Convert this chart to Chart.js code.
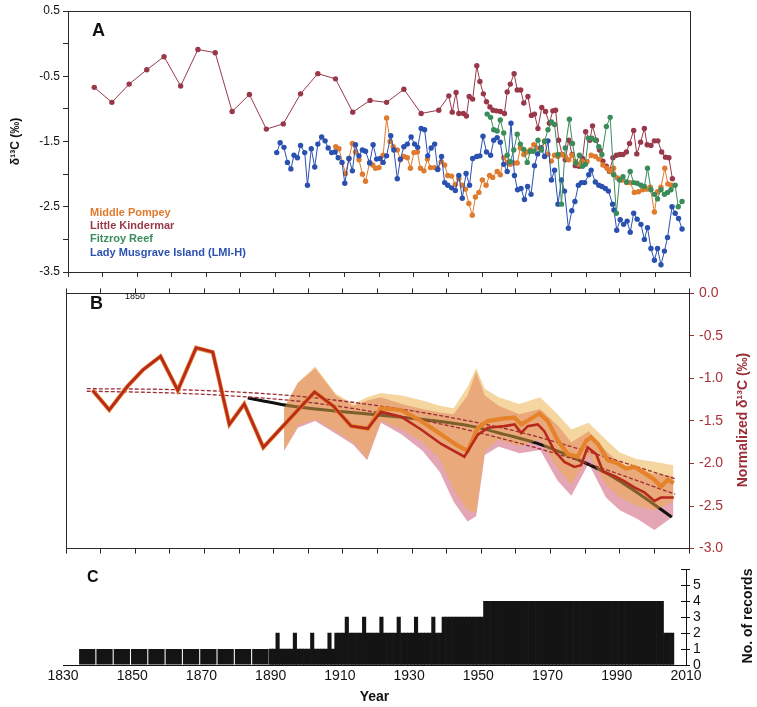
<!DOCTYPE html>
<html>
<head>
<meta charset="utf-8">
<script src="https://cdn.jsdelivr.net/npm/chart.js@4.4.1/dist/chart.umd.min.js"></script>
<style>
  html, body { margin: 0; padding: 0; background: #ffffff; }
  #wrap { position: relative; width: 757px; height: 707px; overflow: hidden; }
  canvas { position: absolute; left: 0; }
</style>
</head>
<body>
<div id="wrap">
  <canvas id="panelA" width="757" height="290" style="top:0px"></canvas>
  <canvas id="panelB" width="757" height="282" style="top:280px"></canvas>
  <canvas id="panelC" width="757" height="149" style="top:558px"></canvas>
</div>
<script>
// ---------- Panel A: raw coral δ13C records ----------
const lkYears = [1837.6,1842.7,1847.7,1852.8,1857.8,1862.6,1867.6,1872.6,1877.5,1882.5,1887.4,1892.3,1897.3,1902.3,1907.4,1912.4,1917.4,1922.2,1927.2,1932.2,1937.3,1940.2,1941.2,1942.3,1943.1,1944.4,1945.3,1946.1,1947.1,1948.3,1949.2,1950.2,1951.1,1952.1,1953.0,1954.0,1955.1,1956.3,1957.1,1958.0,1959.1,1960.0,1961.0,1961.9,1963.1,1964.1,1965.0,1966.0,1967.1,1968.2,1969.3,1970.3,1971.1,1972.0,1973.0,1973.9,1974.9,1975.9,1976.8,1977.9,1978.9,1979.8,1981.0,1981.8,1982.9,1983.8,1984.8,1985.8,1986.7,1987.7,1988.7,1989.7,1990.6,1991.6,1992.5,1993.7,1994.6,1995.7,1996.8,1997.6,1998.7,1999.7,2000.7,2001.8,2002.9,2003.9,2004.9];
const lkValues = [-0.67,-0.90,-0.62,-0.40,-0.20,-0.65,-0.09,-0.14,-1.04,-0.78,-1.31,-1.23,-0.77,-0.46,-0.54,-1.05,-0.87,-0.90,-0.70,-1.07,-1.02,-0.80,-1.05,-0.75,-1.07,-1.07,-1.11,-0.81,-0.85,-0.34,-0.58,-0.77,-0.89,-0.97,-1.02,-1.03,-1.04,-1.07,-0.74,-0.62,-0.46,-0.71,-0.71,-0.91,-0.81,-1.10,-1.08,-1.30,-0.98,-1.04,-1.22,-1.03,-1.02,-1.48,-1.70,-1.78,-1.48,-1.70,-1.87,-1.88,-1.76,-1.35,-1.48,-1.26,-1.48,-1.63,-1.80,-1.88,-1.96,-1.75,-1.71,-1.70,-1.70,-1.66,-1.53,-1.33,-1.69,-1.51,-1.30,-1.55,-1.56,-1.49,-1.49,-1.66,-1.74,-1.75,-2.07];

const mpYears = [1907.5,1908.4,1910.3,1911.3,1912.3,1913.2,1914.2,1915.2,1916.1,1917.3,1918.2,1919.0,1920.0,1921.2,1922.2,1923.2,1924.1,1925.3,1926.2,1927.2,1928.2,1929.1,1930.1,1931.1,1932.0,1933.0,1934.0,1934.9,1936.1,1937.0,1938.0,1939.0,1939.9,1941.0,1942.1,1943.1,1944.1,1945.0,1946.0,1947.0,1947.9,1948.9,1949.9,1951.0,1952.0,1952.9,1954.2,1955.1,1956.1,1957.1,1958.0,1959.0,1960.0,1960.9,1961.9,1962.9,1963.8,1964.8,1965.8,1966.9,1967.9,1968.9,1969.9,1970.8,1971.8,1972.8,1973.9,1974.9,1975.9,1976.8,1977.8,1978.7,1980.2,1981.4,1982.6,1983.6,1984.8,1986.0,1986.9,1987.9,1989.0,1990.3,1991.6,1992.7,1993.9,1995.1,1996.3,1997.5,1998.5,1999.7,2000.6,2001.6,2002.7,2003.6,2004.6];
const mpValues = [-1.58,-1.61,-1.99,-1.76,-1.53,-1.66,-1.78,-2.00,-2.11,-1.82,-1.86,-1.91,-1.90,-1.71,-1.14,-1.50,-1.58,-1.63,-1.78,-1.73,-1.75,-1.91,-1.67,-1.66,-1.91,-1.95,-1.77,-1.90,-1.90,-1.92,-1.81,-1.86,-2.02,-2.03,-2.16,-2.07,-2.17,-2.23,-2.45,-2.63,-2.35,-2.28,-2.09,-2.17,-2.02,-2.05,-1.96,-2.01,-1.75,-1.82,-1.85,-1.83,-1.83,-1.60,-1.70,-1.66,-1.63,-1.55,-1.60,-1.60,-1.49,-1.70,-1.80,-1.71,-1.73,-1.70,-1.73,-1.78,-1.71,-1.81,-1.85,-1.80,-1.81,-1.71,-1.73,-1.77,-1.86,-1.91,-1.96,-1.91,-2.06,-2.09,-2.13,-2.13,-2.28,-2.27,-2.24,-2.23,-2.20,-2.58,-2.27,-2.20,-1.91,-2.15,-2.17];

const frYears = [1951.3,1952.3,1953.2,1954.2,1955.1,1956.1,1957.1,1958.0,1959.0,1960.0,1960.9,1961.9,1962.9,1963.8,1964.8,1966.0,1967.0,1967.9,1968.9,1969.9,1970.8,1971.8,1972.8,1973.9,1975.1,1976.0,1977.0,1978.0,1978.9,1979.7,1980.6,1981.6,1982.6,1983.6,1984.5,1985.8,1986.9,1987.9,1988.7,1989.6,1990.6,1991.7,1992.7,1993.7,1994.7,1995.8,1996.8,1997.7,1998.7,1999.7,2000.6,2001.6,2002.6,2003.5,2004.5,2005.7,2006.6,2007.7];
const frValues = [-1.08,-1.13,-1.32,-1.34,-1.17,-1.37,-1.71,-1.81,-1.63,-1.39,-1.54,-1.62,-1.82,-1.65,-1.65,-1.48,-1.63,-1.50,-1.32,-1.20,-1.24,-1.70,-2.46,-1.60,-1.16,-1.53,-1.83,-1.71,-1.88,-1.85,-1.45,-1.45,-1.48,-1.58,-1.70,-1.27,-1.13,-2.01,-2.60,-2.09,-2.04,-2.12,-1.96,-2.13,-2.14,-2.17,-2.19,-1.91,-2.24,-2.31,-2.38,-2.24,-2.31,-2.28,-2.24,-2.17,-2.50,-2.42];

const lmiYears = [1890.4,1891.4,1892.5,1893.5,1894.5,1895.4,1896.4,1897.3,1898.5,1899.3,1900.4,1901.4,1902.3,1903.4,1904.4,1905.3,1906.3,1907.3,1908.2,1909.3,1910.1,1911.3,1912.3,1913.2,1914.2,1915.2,1916.1,1917.3,1918.3,1919.3,1920.3,1921.2,1922.2,1923.4,1924.3,1925.3,1926.2,1927.2,1928.2,1929.3,1930.3,1931.2,1932.2,1933.2,1934.1,1935.1,1936.1,1937.0,1938.1,1939.0,1939.9,1941.0,1942.1,1943.1,1944.1,1945.2,1946.2,1947.1,1948.3,1949.2,1950.1,1951.1,1952.3,1953.2,1954.2,1955.1,1956.1,1957.1,1958.2,1959.2,1960.1,1961.1,1962.1,1963.0,1964.0,1965.0,1965.9,1966.9,1967.9,1968.9,1969.9,1970.8,1971.8,1972.8,1973.7,1974.8,1975.8,1976.7,1977.7,1978.6,1979.5,1980.7,1981.4,1982.6,1983.6,1984.5,1985.5,1986.4,1987.6,1988.0,1988.8,1989.8,1990.8,1991.8,1992.7,1993.7,1994.7,1995.8,1996.8,1997.7,1998.7,1999.7,2000.6,2001.6,2002.6,2003.5,2004.8,2005.7,2006.7,2007.7];
const lmiValues = [-1.67,-1.52,-1.59,-1.82,-1.92,-1.71,-1.75,-1.56,-1.67,-2.17,-1.61,-1.89,-1.54,-1.43,-1.49,-1.60,-1.67,-1.66,-1.75,-1.82,-2.14,-1.76,-1.95,-1.55,-1.72,-1.63,-1.65,-1.83,-1.55,-1.77,-1.76,-1.82,-1.72,-1.41,-1.63,-2.07,-1.77,-1.58,-1.54,-1.43,-1.54,-1.59,-1.30,-1.32,-1.72,-1.60,-1.54,-1.93,-1.73,-2.13,-2.17,-2.21,-2.25,-2.02,-2.37,-1.99,-2.17,-1.76,-1.73,-1.72,-1.42,-1.66,-1.71,-1.48,-1.44,-1.51,-1.85,-1.96,-1.22,-2.02,-2.24,-2.22,-2.39,-2.19,-2.31,-1.87,-1.69,-1.60,-1.73,-1.49,-2.09,-1.94,-2.46,-2.09,-2.26,-2.83,-2.56,-2.42,-2.17,-2.13,-2.13,-2.01,-1.94,-2.12,-2.17,-2.19,-2.22,-2.26,-2.46,-2.55,-2.86,-2.70,-2.77,-2.72,-2.89,-2.60,-2.69,-2.77,-3.00,-2.82,-3.14,-3.32,-3.14,-3.39,-3.18,-2.97,-2.50,-2.60,-2.68,-2.84];

// ---------- Panel B: normalized composite ----------
const compEarlyYears = [1837.7,1842.5,1847.8,1852.2,1857.3,1862.3,1867.6,1872.4,1877.2,1881.5,1887.0,1901.8,1907.1,1912.4,1917.2];
const compEarlyValues = [-1.14,-1.37,-1.09,-0.90,-0.74,-1.14,-0.64,-0.69,-1.54,-1.30,-1.81,-1.16,-1.32,-1.56,-1.59];

const orangeLateYears = [1921.0,1926.8,1932.6,1938.4,1943.2,1946.1,1949.0,1951.9,1956.7,1959.6,1961.5,1964.4,1966.8,1969.2,1972.1,1975.0,1977.9,1980.3,1981.7,1983.7,1986.5,1989.4,1991.8,1994.2,1997.1,2000.0,2001.9,2003.9,2005.6];
const orangeLateValues = [-1.35,-1.37,-1.50,-1.66,-1.79,-1.85,-1.58,-1.50,-1.47,-1.46,-1.54,-1.47,-1.41,-1.50,-1.73,-1.89,-1.92,-1.73,-1.69,-1.77,-1.96,-2.00,-2.06,-2.04,-2.11,-2.19,-2.27,-2.19,-2.23];

const redLateYears = [1921.0,1926.8,1932.6,1938.4,1945.1,1949.0,1951.9,1956.7,1959.6,1961.5,1963.4,1966.3,1968.2,1971.1,1974.0,1976.9,1978.8,1980.7,1983.2,1985.1,1988.5,1991.4,1994.2,1997.1,2000.0,2001.9,2005.6];
const redLateValues = [-1.39,-1.45,-1.60,-1.77,-1.92,-1.66,-1.58,-1.56,-1.54,-1.64,-1.56,-1.54,-1.62,-1.85,-1.98,-2.04,-2.02,-1.81,-1.89,-2.09,-2.15,-2.21,-2.28,-2.34,-2.44,-2.40,-2.40];

const fitYears = [1882.5,1896,1915,1935,1947,1957,1966,1976,1986,1995,2005];
const fitValues = [-1.23,-1.33,-1.41,-1.49,-1.56,-1.66,-1.76,-1.92,-2.11,-2.34,-2.63];

const trendYears = [1836,1860,1880,1900,1920,1940,1960,1980,2006];
const trendUpper = [-1.12,-1.13,-1.16,-1.22,-1.32,-1.45,-1.62,-1.85,-2.18];
const trendLower = [-1.15,-1.17,-1.21,-1.28,-1.40,-1.55,-1.75,-1.99,-2.36];

const bandYears = [1893,1897,1902,1908,1913,1917,1921,1927,1933,1938,1942,1946,1948.5,1951,1955,1961,1967,1972,1976,1981,1986,1990,1995,2000,2005.5];
const bandOrangeHigh = [-1.35,-1.05,-0.86,-1.18,-1.30,-1.22,-1.17,-1.20,-1.26,-1.32,-1.35,-1.10,-0.88,-1.12,-1.22,-1.30,-1.22,-1.42,-1.60,-1.52,-1.72,-1.87,-1.95,-1.98,-2.02];
const bandOrangeLow = [-1.85,-1.55,-1.48,-1.62,-1.75,-1.94,-1.50,-1.60,-1.75,-1.95,-2.30,-2.55,-2.58,-1.85,-1.72,-1.80,-1.72,-2.05,-2.25,-1.90,-2.25,-2.40,-2.50,-2.55,-2.45];
const bandRedHigh = [-1.35,-1.05,-0.88,-1.20,-1.32,-1.26,-1.22,-1.30,-1.36,-1.40,-1.42,-1.20,-0.92,-1.20,-1.32,-1.42,-1.36,-1.55,-1.75,-1.62,-1.85,-2.00,-2.08,-2.12,-2.15];
const bandRedLow = [-1.85,-1.58,-1.50,-1.65,-1.78,-1.96,-1.52,-1.66,-1.85,-2.10,-2.45,-2.68,-2.62,-1.90,-1.80,-1.88,-1.84,-2.20,-2.38,-2.00,-2.40,-2.55,-2.65,-2.78,-2.62];

// ---------- Panel C: number of records ----------
const blockCenters = [1837,1842,1847,1852,1857,1862,1867,1872,1877,1882,1887];
const blockCounts = [1,1,1,1,1,1,1,1,1,1,1];
const annualStartYear = 1890;
const annualCounts = [
  1,1,2,1,1,1,1,2,1,1,   // 1890s
  1,1,2,1,1,1,1,2,1,2,   // 1900s
  2,2,3,2,2,2,2,3,2,2,   // 1910s
  2,2,3,2,2,2,2,3,2,2,   // 1920s
  2,2,3,2,2,2,2,3,2,2,   // 1930s
  3,3,3,3,3,3,3,3,3,3,   // 1940s
  3,3,4,4,4,4,4,4,4,4,   // 1950s
  4,4,4,4,4,4,4,4,4,4,   // 1960s
  4,4,4,4,4,4,4,4,4,4,   // 1970s
  4,4,4,4,4,4,4,4,4,4,   // 1980s
  4,4,4,4,4,4,4,4,4,4,   // 1990s
  4,4,4,4,2,2,2          // 2000-2006
];

const yearTicksA = { min: 1830, max: 2010, step: 10 };
const yearLabelStep = 20;

// ---------- helpers ----------
const FONT = "'Liberation Sans', Arial, Helvetica, sans-serif";
Chart.defaults.font.family = FONT;
Chart.defaults.color = '#111';

const xy = (xs, ys) => xs.map((x, i) => ({ x: x, y: ys[i] }));

const framePlugin = {
  id: 'frame',
  afterDraw(chart) {
    const a = chart.chartArea, c = chart.ctx;
    c.save();
    c.strokeStyle = '#2a2a2a';
    c.lineWidth = 1;
    c.strokeRect(Math.round(a.left) + 0.5, Math.round(a.top) + 0.5,
                 Math.round(a.right - a.left), Math.round(a.bottom - a.top));
    c.restore();
  }
};

function textPlugin(id, items) {
  return {
    id: id,
    afterDraw(chart) {
      const c = chart.ctx;
      items.forEach(t => {
        c.save();
        c.font = t.font;
        c.fillStyle = t.color || '#111';
        c.textAlign = t.align || 'left';
        c.textBaseline = 'middle';
        c.translate(t.x, t.y);
        if (t.rot) c.rotate(t.rot);
        c.fillText(t.text, 0, 0);
        c.restore();
      });
    }
  };
}

const tickGrid = (color) => ({
  display: true, drawOnChartArea: false, drawTicks: true, tickLength: 5, color: color, lineWidth: 1
});

// ---------- Panel A ----------
const colLK = '#983849', colMP = '#e07a2c', colFR = '#3a8c5a', colLMI = '#2a50b0';
const seriesStyle = (color) => ({
  borderColor: color, backgroundColor: color, pointBackgroundColor: color,
  pointBorderWidth: 0, pointRadius: 2.7, borderWidth: 1, tension: 0
});

new Chart(document.getElementById('panelA'), {
  type: 'line',
  data: {
    datasets: [
      Object.assign({ label: 'Fitzroy Reef', data: xy(frYears, frValues) }, seriesStyle(colFR)),
      Object.assign({ label: 'Lady Musgrave Island (LMI-H)', data: xy(lmiYears, lmiValues) }, seriesStyle(colLMI)),
      Object.assign({ label: 'Middle Pompey', data: xy(mpYears, mpValues) }, seriesStyle(colMP)),
      Object.assign({ label: 'Little Kindermar', data: xy(lkYears, lkValues) }, seriesStyle(colLK))
    ]
  },
  options: {
    responsive: false, animation: false, events: [],
    layout: { padding: { left: 0, right: 67, top: 11, bottom: 0 } },
    plugins: { legend: { display: false }, tooltip: { enabled: false } },
    scales: {
      x: {
        type: 'linear', min: yearTicksA.min, max: yearTicksA.max,
        afterFit: s => { s.height = 18; },
        ticks: { stepSize: yearTicksA.step, display: false },
        grid: tickGrid('#2a2a2a'),
        border: { color: '#2a2a2a' }
      },
      y: {
        min: -3.5, max: 0.5,
        afterFit: s => { s.width = 68; },
        ticks: {
          stepSize: 0.5, padding: 3, font: { size: 12 }, color: '#111', autoSkip: false,
          callback: v => (Math.abs(((v - 0.5) % 1)) < 1e-6 ? v.toFixed(1) : '')
        },
        grid: tickGrid('#2a2a2a'),
        border: { color: '#2a2a2a' },
        title: { display: true, text: 'δ¹³C (‰)', font: { size: 12, weight: 'bold' }, color: '#111', padding: { top: 8, bottom: 0 } }
      }
    }
  },
  plugins: [framePlugin, textPlugin('labelsA', [
    { text: 'A', x: 92, y: 31, font: 'bold 18px ' + FONT },
    { text: 'Middle Pompey', x: 90, y: 213, font: 'bold 11px ' + FONT, color: colMP },
    { text: 'Little Kindermar', x: 90, y: 226, font: 'bold 11px ' + FONT, color: colLK },
    { text: 'Fitzroy Reef', x: 90, y: 239, font: 'bold 11px ' + FONT, color: colFR },
    { text: 'Lady Musgrave Island (LMI-H)', x: 90, y: 253, font: 'bold 11px ' + FONT, color: colLMI }
  ])]
});

// ---------- Panel B ----------
const axisRed = '#9b2d36';
const lineStyle = (color, width) => ({
  borderColor: color, backgroundColor: color, borderWidth: width,
  pointRadius: 0, tension: 0, fill: false
});
const bandStyle = (fillColor, fillTarget) => ({
  borderWidth: 0, borderColor: 'rgba(0,0,0,0)', backgroundColor: fillColor,
  pointRadius: 0, tension: 0, fill: fillTarget
});

new Chart(document.getElementById('panelB'), {
  type: 'line',
  data: {
    datasets: [
      Object.assign({ label: 'Composite (red)', data: xy(compEarlyYears.concat(redLateYears), compEarlyValues.concat(redLateValues)) }, lineStyle('#b7291c', 2.6)),
      Object.assign({ label: 'Composite (orange)', data: xy(compEarlyYears.concat(orangeLateYears), compEarlyValues.concat(orangeLateValues)) }, lineStyle('#e5822a', 4.2)),
      Object.assign({ label: 'Trend upper', data: xy(trendYears, trendUpper), borderDash: [4, 2], cubicInterpolationMode: 'monotone' }, lineStyle(axisRed, 1.3)),
      Object.assign({ label: 'Trend lower', data: xy(trendYears, trendLower), borderDash: [4, 2], cubicInterpolationMode: 'monotone' }, lineStyle(axisRed, 1.3)),
      Object.assign({ label: 'Orange band high', data: xy(bandYears, bandOrangeHigh) }, bandStyle('rgba(237,173,65,0.5)', '+1')),
      Object.assign({ label: 'Orange band low', data: xy(bandYears, bandOrangeLow) }, bandStyle('rgba(0,0,0,0)', false)),
      Object.assign({ label: 'Fit', data: xy(fitYears, fitValues), cubicInterpolationMode: 'monotone' }, lineStyle('#111111', 3)),
      Object.assign({ label: 'Red band high', data: xy(bandYears, bandRedHigh) }, bandStyle('rgba(210,105,130,0.6)', '+1')),
      Object.assign({ label: 'Red band low', data: xy(bandYears, bandRedLow) }, bandStyle('rgba(0,0,0,0)', false))
    ]
  },
  options: {
    responsive: false, animation: false, events: [],
    layout: { padding: { left: 66, right: 0, top: 0, bottom: 0 } },
    plugins: { legend: { display: false }, tooltip: { enabled: false } },
    scales: {
      x: {
        type: 'linear', min: yearTicksA.min, max: yearTicksA.max, position: 'bottom',
        afterFit: s => { s.height = 10; },
        ticks: { stepSize: yearTicksA.step, display: false },
        grid: tickGrid('#2a2a2a'),
        border: { color: '#2a2a2a' }
      },
      xTop: {
        axis: 'x', type: 'linear', min: yearTicksA.min, max: yearTicksA.max, position: 'top',
        afterFit: s => { s.height = 8; },
        ticks: { stepSize: yearTicksA.step, display: false },
        grid: tickGrid('#2a2a2a'),
        border: { color: '#2a2a2a' }
      },
      y: {
        position: 'right', min: -3, max: 0,
        afterFit: s => { s.width = 68; },
        ticks: { stepSize: 0.5, padding: 5, font: { size: 14 }, color: '#a8323a', autoSkip: false, callback: v => v.toFixed(1) },
        grid: tickGrid(axisRed),
        border: { color: axisRed }
      }
    }
  },
  plugins: [framePlugin, textPlugin('labelsB', [
    { text: 'B', x: 90, y: 24, font: 'bold 18px ' + FONT },
    { text: '1850', x: 125, y: 17, font: '9px ' + FONT },
    { text: 'Normalized δ¹³C (‰)', x: 743, y: 140, font: 'bold 14px ' + FONT, color: axisRed, align: 'center', rot: -Math.PI / 2 }
  ])]
});

// ---------- Panel C ----------
const innerTicks = {
  id: 'innerTicks',
  afterDraw(chart) {
    const s = chart.scales.y, c = chart.ctx;
    c.save();
    c.strokeStyle = '#111';
    c.lineWidth = 1;
    s.ticks.forEach(t => {
      const y = Math.round(s.getPixelForValue(t.value)) + 0.5;
      c.beginPath();
      c.moveTo(s.left - 5, y);
      c.lineTo(s.left, y);
      c.stroke();
    });
    c.restore();
  }
};

new Chart(document.getElementById('panelC'), {
  type: 'bar',
  data: {
    datasets: [
      {
        label: 'Records (5-yr)', xAxisID: 'x', grouped: false,
        data: xy(blockCenters, blockCounts),
        backgroundColor: '#141414', borderWidth: 0, inflateAmount: 0,
        barPercentage: 1, categoryPercentage: 0.94
      },
      {
        label: 'Records (annual)', xAxisID: 'x2', grouped: false,
        data: annualCounts.map((n, i) => ({ x: annualStartYear + i, y: n })),
        backgroundColor: '#141414', borderWidth: 0,
        barPercentage: 1, categoryPercentage: 1
      }
    ]
  },
  options: {
    responsive: false, animation: false, events: [],
    layout: { padding: { left: 63, right: 0, top: 7, bottom: 0 } },
    plugins: { legend: { display: false }, tooltip: { enabled: false } },
    scales: {
      x: {
        type: 'linear', min: yearTicksA.min, max: yearTicksA.max, offset: false,
        afterFit: s => { s.height = 42; },
        ticks: { stepSize: yearLabelStep, padding: 3, font: { size: 14 }, color: '#111', maxRotation: 0, autoSkip: false, callback: v => String(v) },
        grid: { display: true, drawOnChartArea: false, drawTicks: false, offset: false },
        border: { color: '#111' },
        title: { display: true, text: 'Year', font: { size: 14, weight: 'bold' }, color: '#111', padding: { top: 0, bottom: 1 } }
      },
      x2: {
        type: 'linear', min: yearTicksA.min, max: yearTicksA.max, offset: false, display: false,
        grid: { offset: false }
      },
      y: {
        position: 'right', min: 0, max: 6,
        afterFit: s => { s.width = 71; },
        ticks: { stepSize: 1, padding: 3, font: { size: 14 }, color: '#111', autoSkip: false, callback: v => (v === 6 ? '' : String(v)) },
        grid: { display: true, drawOnChartArea: false, drawTicks: true, tickLength: 4, color: '#111' },
        border: { color: '#111' }
      }
    }
  },
  plugins: [innerTicks, textPlugin('labelsC', [
    { text: 'C', x: 87, y: 20, font: 'bold 16px ' + FONT },
    { text: 'No. of records', x: 748, y: 58, font: 'bold 14px ' + FONT, align: 'center', rot: -Math.PI / 2 }
  ])]
});
</script>
</body>
</html>
